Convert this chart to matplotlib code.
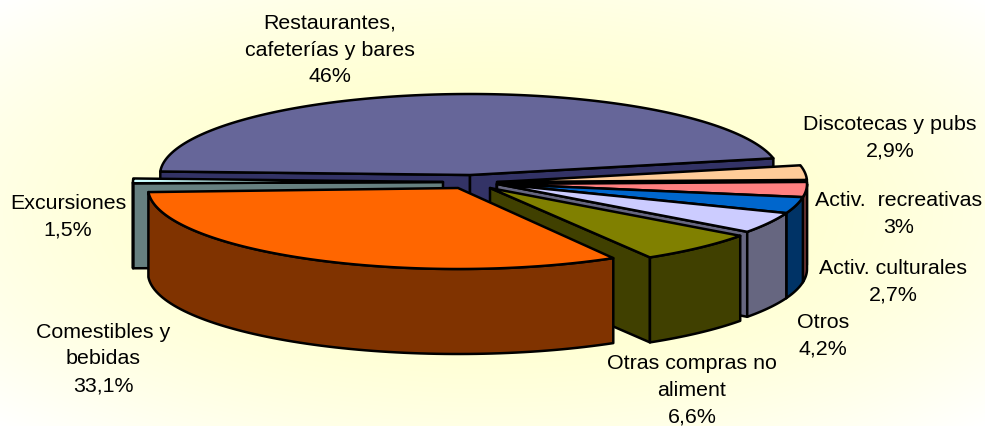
import numpy as np
import matplotlib
matplotlib.use("Agg")
import matplotlib.pyplot as plt
from matplotlib.patches import Polygon

# Data
names = ["Restaurantes,\ncafeterías y bares", "Discotecas y pubs", "Activ.  recreativas",
         "Activ. culturales", "Otros", "Otras compras no\naliment", "Comestibles y\nbebidas", "Excursiones"]
values = [46, 2.9, 3, 2.7, 4.2, 6.6, 33.1, 1.5]
value_labels = ["46%", "2,9%", "3%", "2,7%", "4,2%", "6,6%", "33,1%", "1,5%"]

# Style and layout
top_colors = ["#666699", "#FFCC99", "#FF8080", "#0066CC", "#CCCCFF", "#808000", "#FF6600", "#CCFFFF"]
side_colors = ["#333366", "#7F664C", "#804040", "#003366", "#666680", "#404000", "#803300", "#668080"]
apex_x = [470, 497, 497, 497, 497, 490, 458, 443]
apex_y = [175, 182, 184, 184, 184, 188, 188, 182]
# small per-slice view corrections (degrees) imitating the original's perspective
fix_start = [0, 0, 0, 0, -2, -2, -2, -2]
fix_end = [0, 0, 0, -2, -2, -1, 0, 0]
label_x = [330, 890, 899, 893, 823, 692, 103, 68]
label_y = [50, 137.5, 214, 281.5, 335.5, 390, 359, 217]
draw_order = [0, 1, 2, 3, 4, 5, 7, 6]
start_angle = 177.5
rx, ry, depth = 310, 81, 85
W, H = 985, 426

plt.rcParams["font.family"] = ["Liberation Sans", "DejaVu Sans"]
fig = plt.figure(figsize=(W / 100, H / 100), dpi=100)
ax = fig.add_axes([0, 0, 1, 1])
ax.set_xlim(0, W)
ax.set_ylim(H, 0)
ax.axis("off")

# Background: pale yellow centre fading to white at the corners
yy, xx = np.mgrid[0:1:200j, 0:1:400j]
r = np.clip(np.hypot((xx - .5) / .5, (yy - .5) / .5) / np.sqrt(2), 0, 1)
bg = np.ones((200, 400, 3))
bg[..., 2] = 0.79 + 0.21 * r ** 2
ax.imshow(bg, extent=(0, W, H, 0), aspect="auto", zorder=0, interpolation="bilinear")

values_arr = np.array(values, float)
edges = start_angle - np.concatenate([[0], np.cumsum(values_arr)]) / values_arr.sum() * 360


def pt(cx, cy, a, dz=0):
    a = np.radians(a)
    return np.column_stack([cx + rx * np.cos(a) * np.ones_like(a), cy - ry * np.sin(a) * np.ones_like(a) + dz])


def poly(p, color, z):
    ax.add_patch(Polygon(p, closed=True, facecolor=color, edgecolor="black", lw=1.8,
                         joinstyle="round", zorder=z))


z = 1
for i in draw_order:
    a1, a2 = edges[i] + fix_start[i], edges[i + 1] + fix_end[i]
    cx, cy = apex_x[i], apex_y[i]
    c, s = top_colors[i], side_colors[i]
    for a, vis in ((a1, np.cos(np.radians(a1)) < 0), (a2, np.cos(np.radians(a2)) > 0)):
        if vis:
            e = pt(cx, cy, np.array([a]))[0]
            poly([(cx, cy), e, (e[0], e[1] + depth), (cx, cy + depth)], s, z)
            z += 1
    lo, hi = max(a2, -180), min(a1, 0)
    if hi > lo:
        arc = np.linspace(hi, lo, 80)
        poly(np.vstack([pt(cx, cy, arc), pt(cx, cy, arc[::-1], depth)]), s, z)
        z += 1
    arc = np.linspace(a1, a2, 160)
    poly(np.vstack([[(cx, cy)], pt(cx, cy, arc)]), c, z)
    z += 1

for n, v, x, y in zip(names, value_labels, label_x, label_y):
    ax.text(x, y, f"{n}\n{v}", ha="center", va="center", fontsize=15.4, color="black",
            linespacing=1.52, zorder=z)

fig.savefig("out.png", dpi=100)
